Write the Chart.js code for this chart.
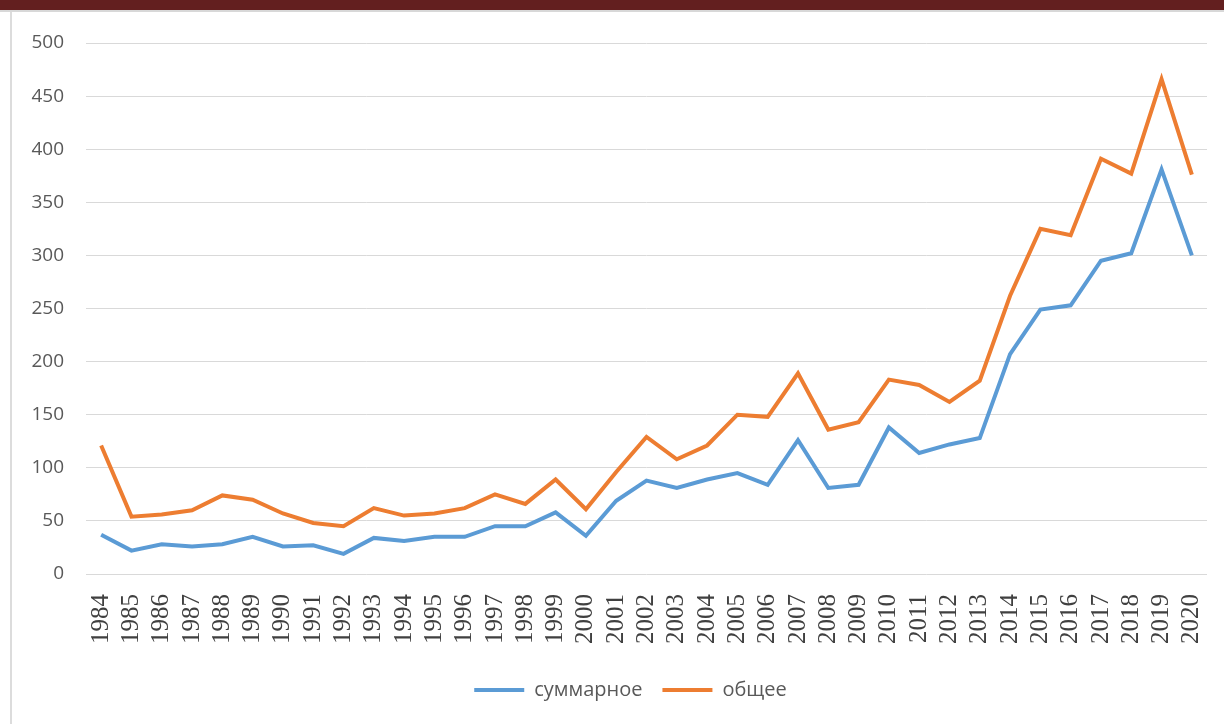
<!DOCTYPE html>
<html lang="ru">
<head>
  <meta charset="UTF-8">
  <title>суммарное / общее</title>
  <script src="https://cdn.jsdelivr.net/npm/chart.js"></script>
  <style>
    body {
      margin: 0;
      background: #fff;
      width: 1224px;
      height: 724px;
      overflow: hidden;
      position: relative;
    }
    .topbar {
      position: absolute;
      left: 0; top: 0;
      width: 1224px; height: 10px;
      background: #631f1f;
      border-bottom: 2px solid #d8d8d8;
    }
    .leftline {
      position: absolute;
      left: 10px; top: 12px;
      width: 2px; height: 712px;
      background: #dcdcdc;
    }
    .chart-box {
      position: absolute;
      left: 0; top: 0;
      width: 1224px; height: 724px;
    }
  </style>
</head>
<body>
  <div class="topbar"></div>
  <div class="leftline"></div>
  <div class="chart-box">
    <canvas id="myChart" width="1224" height="724"></canvas>
  </div>
  <script>
    const years = ['1984', '1985', '1986', '1987', '1988', '1989', '1990', '1991', '1992', '1993',
      '1994', '1995', '1996', '1997', '1998', '1999', '2000', '2001', '2002', '2003',
      '2004', '2005', '2006', '2007', '2008', '2009', '2010', '2011', '2012', '2013',
      '2014', '2015', '2016', '2017', '2018', '2019', '2020'];

    // суммарное (blue)
    const summarnoe = [37, 22, 28, 26, 28, 35, 26, 27, 19, 34,
      31, 35, 35, 45, 45, 58, 36, 69, 88, 81,
      89, 95, 84, 126, 81, 84, 138, 114, 122, 128,
      207, 249, 253, 295, 302, 381, 300];

    // общее (orange)
    const obshchee = [121, 54, 56, 60, 74, 70, 57, 48, 45, 62,
      55, 57, 62, 75, 66, 89, 61, 96, 129, 108,
      121, 150, 148, 189, 136, 143, 183, 178, 162, 182,
      262, 325, 319, 391, 377, 466, 376];

    const yTicks = [0, 50, 100, 150, 200, 250, 300, 350, 400, 450, 500];

    const ctx = document.getElementById('myChart').getContext('2d');

    // legend in the original sits a bit right of the page centre
    const legendShift = {
      id: 'legendShift',
      afterLayout(chart) {
        chart.legend.left += 27;
        chart.legend.right += 27;
      }
    };

    const data = {
      labels: years,
      datasets: [{
        label: 'суммарное',
        data: summarnoe,
        borderColor: '#5b9bd5',
        backgroundColor: '#5b9bd5',
        borderWidth: 4,
        pointRadius: 0,
        tension: 0
      }, {
        label: 'общее',
        data: obshchee,
        borderColor: '#ed7d31',
        backgroundColor: '#ed7d31',
        borderWidth: 4,
        pointRadius: 0,
        tension: 0
      }]
    };

    const config = {
      type: 'line',
      data: data,
      plugins: [legendShift],
      options: {
        responsive: false,
        animation: false,
        layout: {
          padding: { left: 0, right: 17, top: 43, bottom: 14 }
        },
        plugins: {
          tooltip: { enabled: false },
          legend: {
            position: 'bottom',
            labels: {
              boxWidth: 50,
              boxHeight: 4,
              padding: 20,
              color: '#595959',
              font: { family: 'Open Sans', size: 20 },
              generateLabels(chart) {
                const items = Chart.defaults.plugins.legend.labels.generateLabels(chart);
                items.forEach(it => { it.lineWidth = 0; it.fillStyle = it.strokeStyle; });
                return items;
              }
            }
          }
        },
        scales: {
          x: {
            offset: true,
            grid: { display: false },
            border: { display: false },
            ticks: {
              autoSkip: false,
              maxRotation: 90,
              minRotation: 90,
              padding: 12,
              color: '#404040',
              font: { family: 'Liberation Serif', size: 25 }
            },
            afterFit(scale) {
              scale.height = 86;
              scale.paddingLeft = 0;
              scale.paddingRight = 0;
            }
          },
          y: {
            min: 0,
            max: 500,
            afterBuildTicks(scale) { scale.ticks = yTicks.map(v => ({ value: v })); },
            grid: { color: '#d9d9d9', lineWidth: 1, drawTicks: false },
            border: { display: false },
            ticks: {
              padding: 22,
              color: '#595959',
              font: { family: 'Open Sans', size: 19 }
            },
            afterFit(scale) { scale.width = 86; }
          }
        }
      }
    };

    const myChart = new Chart(ctx, config);
  </script>
</body>
</html>
